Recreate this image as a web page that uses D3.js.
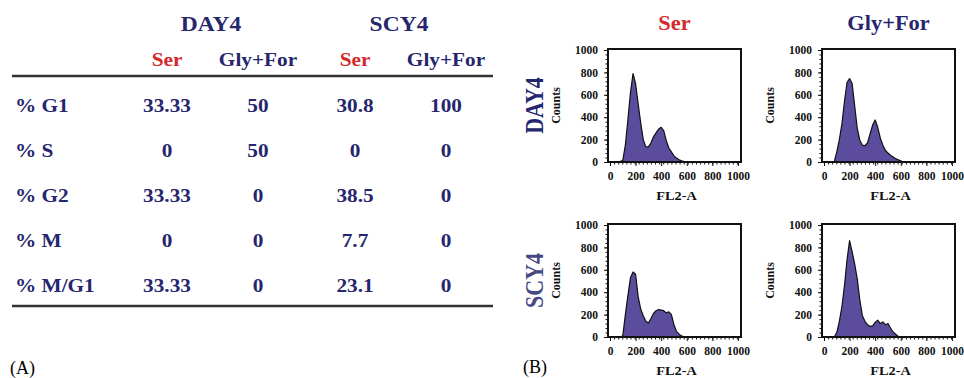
<!DOCTYPE html>
<html>
<head>
<meta charset="utf-8">
<title>Cell cycle table and FL2-A histograms</title>
<style>
  body { margin: 0; background: #fff; }
  svg { display: block; font-family: "Liberation Serif", "Times New Roman", serif; }
  .navy { fill: #26266e; }
  .red { fill: #d42a2a; }
</style>
<script src="https://d3js.org/d3.v7.min.js"></script>
</head>
<body>
<svg id="fig" width="964" height="378"></svg>
<script>
// ---- table (A) ----
var strains = ["DAY4", "SCY4"];
var media = ["Ser", "Gly+For"];
var phases = ["% G1", "% S", "% G2", "% M", "% M/G1"];
var day4Ser    = [33.33, 0, 33.33, 0, 33.33];
var day4GlyFor = [50, 50, 0, 0, 0];
var scy4Ser    = [30.8, 0, 38.5, 7.7, 23.1];
var scy4GlyFor = [100, 0, 0, 0, 0];

// ---- histograms (B) ----
var fl2Ticks = [0, 200, 400, 600, 800, 1000];
var countTicks = [0, 200, 400, 600, 800, 1000];
var channels = [60, 80, 100, 120, 140, 160, 180, 200, 220, 240, 260, 280, 300, 320, 340,
                360, 380, 400, 420, 440, 460, 480, 500, 520, 540, 560, 580, 600, 620, 640];
var histDay4Ser    = [0, 5, 15, 150, 380, 620, 790, 700, 520, 350, 200, 135, 135, 170, 225,
                      260, 295, 310, 280, 190, 125, 90, 55, 35, 20, 10, 3, 0, 0, 0];
var histDay4GlyFor = [0, 0, 90, 200, 340, 540, 710, 745, 700, 500, 300, 195, 150, 145, 170,
                      250, 330, 375, 310, 215, 150, 105, 80, 60, 45, 30, 20, 10, 0, 0];
var histScy4Ser    = [0, 0, 10, 200, 370, 530, 580, 560, 360, 250, 190, 140, 125, 165, 210,
                      235, 245, 240, 235, 215, 225, 200, 110, 50, 25, 10, 0, 0, 0, 0];
var histScy4GlyFor = [0, 0, 40, 140, 270, 460, 690, 860, 760, 650, 520, 330, 190, 140, 110,
                      95, 100, 130, 150, 120, 135, 110, 120, 80, 45, 25, 5, 0, 0, 0];

var svg = d3.select("#fig");
var SX = 1.12; // the source figure is a little wider than plain Times

function stext(x, y, str, cls, size, anchor) {
  return svg.append("text")
    .attr("class", cls)
    .attr("transform", "translate(" + x + "," + y + ") scale(" + SX + ",1)")
    .attr("text-anchor", anchor || "middle")
    .attr("font-weight", "bold")
    .attr("font-size", size)
    .text(str);
}

// table scales
var groupX = d3.scalePoint().domain(strains).range([211, 399]);
var subX = d3.scalePoint().domain(media).range([-44, 47]);
var rowY = d3.scalePoint().domain(phases).range([112, 292]);

var tableCols = [
  {strain: "DAY4", medium: "Ser", values: day4Ser},
  {strain: "DAY4", medium: "Gly+For", values: day4GlyFor},
  {strain: "SCY4", medium: "Ser", values: scy4Ser},
  {strain: "SCY4", medium: "Gly+For", values: scy4GlyFor}
];

strains.forEach(function (s) { stext(groupX(s), 31, s, "navy", 21); });
tableCols.forEach(function (c) {
  var cx = groupX(c.strain) + subX(c.medium);
  stext(cx, 66, c.medium, c.medium === "Ser" ? "red" : "navy", 19);
  c.values.forEach(function (v, i) {
    stext(cx, rowY(phases[i]), String(v), "navy", 19);
  });
});
phases.forEach(function (p) { stext(15, rowY(p), p, "navy", 19, "start"); });

[76, 306].forEach(function (y) {
  svg.append("line").attr("x1", 12).attr("x2", 493).attr("y1", y).attr("y2", y)
    .attr("stroke", "#333").attr("stroke-width", 2.6);
});

svg.append("text").attr("x", 10).attr("y", 374).attr("font-size", 18).text("(A)");
svg.append("text").attr("x", 523).attr("y", 373).attr("font-size", 18).text("(B)");

// histogram panels
var panelX = d3.scalePoint().domain(media).range([608, 822]);
var panelY = d3.scalePoint().domain(strains).range([49, 224]);
var PW = 133, PH = 113;

var panels = [
  {strain: "DAY4", medium: "Ser", counts: histDay4Ser},
  {strain: "DAY4", medium: "Gly+For", counts: histDay4GlyFor},
  {strain: "SCY4", medium: "Ser", counts: histScy4Ser},
  {strain: "SCY4", medium: "Gly+For", counts: histScy4GlyFor}
];

media.forEach(function (m) {
  stext(panelX(m) + PW / 2, 30, m, m === "Ser" ? "red" : "navy", 20);
});
strains.forEach(function (s, i) {
  svg.append("text")
    .attr("class", "navy")
    .attr("transform", "translate(543," + (panelY(s) + PH / 2) + ") rotate(-90) scale(1,1.12)")
    .attr("text-anchor", "middle")
    .attr("font-weight", "bold")
    .attr("font-size", 22)
    .attr("fill-opacity", i === 0 ? 1 : 0.85)
    .text(s);
});

panels.forEach(function (p) {
  var x0 = panelX(p.medium), y0 = panelY(p.strain);
  var x = d3.scaleLinear().domain([0, 1024]).range([x0 + 2, x0 + PW]);
  var y = d3.scaleLinear().domain([0, 1000]).range([y0 + PH, y0 + 1]);
  var g = svg.append("g");

  var pts = channels.map(function (c, i) { return [c, p.counts[i]]; });
  g.append("path").datum(pts)
    .attr("fill", "#5b4c9e")
    .attr("d", d3.area()
      .x(function (d) { return x(d[0]); })
      .y0(y(0))
      .y1(function (d) { return y(d[1]); }));
  g.append("path").datum(pts)
    .attr("fill", "none").attr("stroke", "#111").attr("stroke-width", 1.2)
    .attr("stroke-linejoin", "round")
    .attr("d", d3.line()
      .x(function (d) { return x(d[0]); })
      .y(function (d) { return y(d[1]); }));

  // minor ticks
  var xm = g.append("g").attr("transform", "translate(0," + (y0 + PH) + ")")
    .call(d3.axisBottom(x).tickValues(d3.range(0, 1024, 32)).tickSize(2.5).tickFormat(""));
  var ym = g.append("g").attr("transform", "translate(" + x0 + ",0)")
    .call(d3.axisLeft(y).tickValues(d3.range(0, 1001, 40)).tickSize(2.5).tickFormat(""));
  // labelled ticks
  var xa = g.append("g").attr("transform", "translate(0," + (y0 + PH) + ")")
    .call(d3.axisBottom(x).tickValues(fl2Ticks).tickSize(4).tickPadding(6).tickFormat(d3.format("d")));
  var ya = g.append("g").attr("transform", "translate(" + x0 + ",0)")
    .call(d3.axisLeft(y).tickValues(countTicks).tickSize(4).tickPadding(6).tickFormat(d3.format("d")));
  [xm, ym, xa, ya].forEach(function (a) {
    a.select(".domain").remove();
    a.selectAll("line").attr("stroke", "#111").attr("stroke-width", 1);
  });
  [xa, ya].forEach(function (a) {
    a.selectAll("text")
      .attr("font-family", "Liberation Serif, Times New Roman, serif")
      .attr("font-weight", "bold").attr("font-size", 11.5).attr("fill", "#111");
  });

  g.append("rect")
    .attr("x", x0).attr("y", y0).attr("width", PW).attr("height", PH)
    .attr("fill", "none").attr("stroke", "#111").attr("stroke-width", 2);

  svg.append("text")
    .attr("transform", "translate(" + (x0 - 48) + "," + (y0 + PH / 2) + ") rotate(-90)")
    .attr("text-anchor", "middle").attr("font-weight", "bold").attr("font-size", 12)
    .attr("fill", "#111").text("Counts");
  svg.append("text")
    .attr("transform", "translate(" + (x0 + PW / 2 + 2) + "," + (y0 + PH + 38) + ") scale(1.1,1)")
    .attr("text-anchor", "middle").attr("font-weight", "bold").attr("font-size", 13)
    .attr("fill", "#111").text("FL2-A");
});
</script>
</body>
</html>
